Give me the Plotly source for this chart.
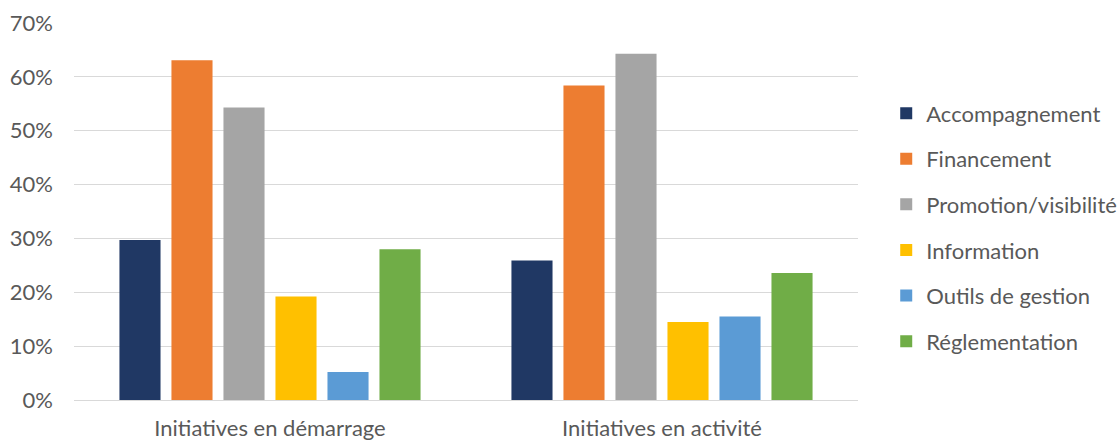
import plotly.graph_objects as go

categories = ["Initiatives en démarrage", "Initiatives en activité"]
series_names = ["Accompagnement", "Financement", "Promotion/visibilité",
                "Information", "Outils de gestion", "Réglementation"]
accompagnement = [0.297, 0.259]
financement = [0.631, 0.584]
promotion = [0.543, 0.643]
information = [0.192, 0.145]
outils = [0.052, 0.155]
reglementation = [0.280, 0.236]
y_ticks = [0, 0.1, 0.2, 0.3, 0.4, 0.5, 0.6, 0.7]

values = [accompagnement, financement, promotion, information, outils, reglementation]
colors = ["#203864", "#ED7D31", "#A5A5A5", "#FFC000", "#5B9BD5", "#70AD47"]

fig = go.Figure()
for i, (name, vals, col) in enumerate(zip(series_names, values, colors)):
    fig.add_trace(go.Bar(x=categories, y=vals, name=name, marker_color=col,
                         marker_line_width=0, legendgroup=str(i)))

font_family = "Lato, Open Sans, sans-serif"
fig.update_layout(
    width=1120, height=442,
    margin=dict(l=74, r=262, t=23, b=42, autoexpand=False),
    paper_bgcolor="white", plot_bgcolor="white",
    barmode="group", bargap=0.204, bargroupgap=0.21,
    font=dict(family=font_family, color="#595959", size=22),
    legend=dict(x=1.036, xanchor="left", xref="paper", y=0.458, yanchor="middle",
                font=dict(size=22, color="#595959"),
                traceorder="grouped", tracegroupgap=14,
                itemwidth=30),
    showlegend=True,
)
fig.update_yaxes(range=[0, 0.7], tickvals=y_ticks, tickformat=".0%",
                 showgrid=True, gridcolor="#D9D9D9", gridwidth=1,
                 zeroline=True, zerolinecolor="#D9D9D9", zerolinewidth=1,
                 showline=False, tickfont=dict(size=22, color="#595959"),
                 ticks="", ticklabelstandoff=20, automargin=False)
fig.update_xaxes(showline=False, ticks="", tickfont=dict(size=22, color="#595959"),
                 ticklabelstandoff=13, automargin=False)

fig.write_html("out.html")
